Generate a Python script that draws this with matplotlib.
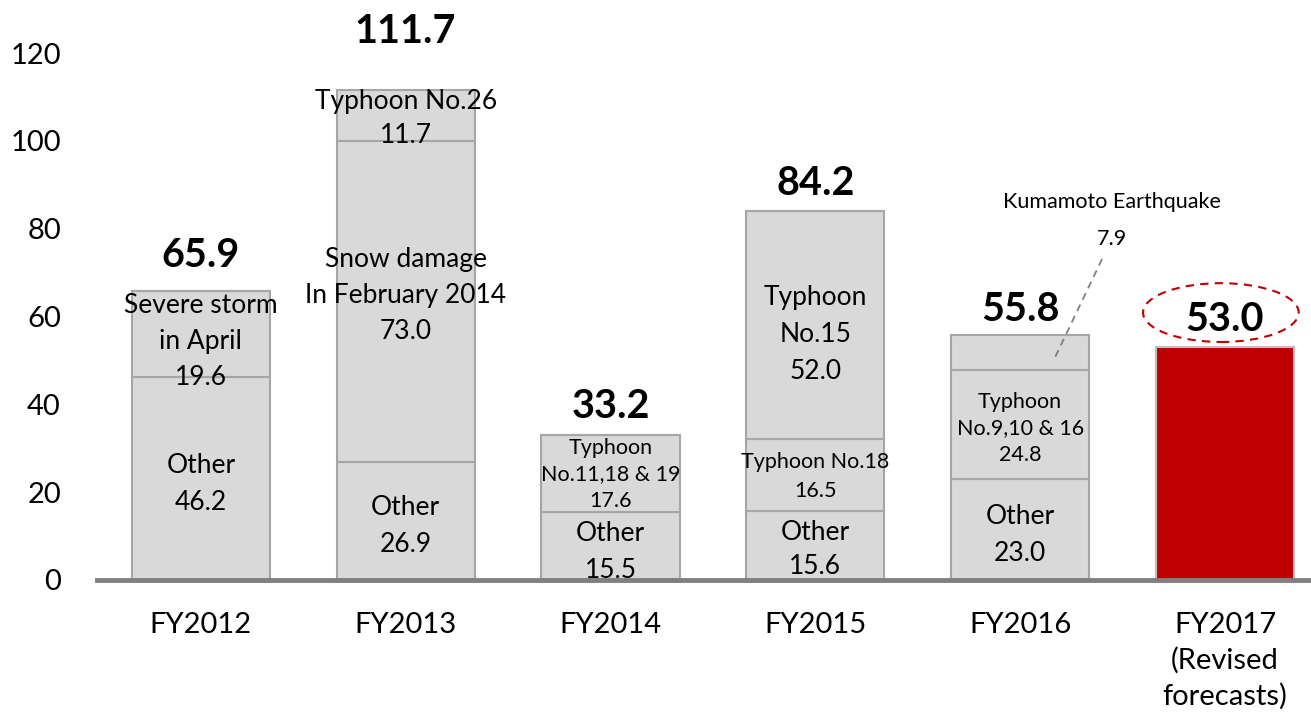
import matplotlib
matplotlib.use("Agg")
import matplotlib.pyplot as plt
from matplotlib.patches import Ellipse

plt.rcParams["font.family"] = ["Lato", "DejaVu Sans"]

years = ["FY2012", "FY2013", "FY2014", "FY2015", "FY2016", "FY2017\n(Revised\nforecasts)"]
other = [46.2, 26.9, 15.5, 15.6, 23.0]
event1 = [19.6, 73.0, 17.6, 16.5, 24.8]
event2 = [0.0, 11.7, 0.0, 52.0, 7.9]
event1_names = ["Severe storm\nin April", "Snow damage\nIn February 2014",
                "Typhoon\nNo.11,18 & 19", "Typhoon No.18", "Typhoon\nNo.9,10 & 16"]
event2_names = ["", "Typhoon No.26", "", "Typhoon\nNo.15", "Kumamoto Earthquake"]
forecast = 53.0
totals = [65.9, 111.7, 33.2, 84.2, 55.8, 53.0]

GREY = "#d9d9d9"
EDGE = "#a6a6a6"
RED = "#c00000"

fig = plt.figure(figsize=(13.11, 7.14), dpi=100)
ax = fig.add_axes([0.074, 0.1877, 0.926, 0.738])

x = list(range(len(years)))
w = 0.675
mid = [o + e for o, e in zip(other, event1)]
ax.bar(x[:5], other, w, color=GREY, edgecolor=EDGE, linewidth=1.5, zorder=2)
ax.bar(x[:5], event1, w, bottom=other, color=GREY, edgecolor=EDGE, linewidth=1.5, zorder=2)
ax.bar(x[:5], event2, w, bottom=mid, color=GREY, edgecolor=EDGE, linewidth=1.5, zorder=2)
ax.bar(x[5], forecast, w, color=RED, edgecolor="#bfbfbf", linewidth=1.5, zorder=2)

# segment labels: (bar, text, y, fontsize, linespacing)
seg = [
    (0, f"Other\n{other[0]:.1f}", 21.9, 19, 1.6),
    (0, f"{event1_names[0]}\n{event1[0]:.1f}", 54.2, 19, 1.55),
    (1, f"Other\n{other[1]:.1f}", 12.3, 19, 1.6),
    (1, f"{event1_names[1]}\n{event1[1]:.1f}", 64.7, 19, 1.55),
    (1, f"{event2_names[1]}\n{event2[1]:.1f}", 105.2, 19, 1.45),
    (2, f"Other\n{other[2]:.1f}", 6.4, 19, 1.6),
    (2, f"{event1_names[2]}\n{event1[2]:.1f}", 24.1, 15.5, 1.4),
    (3, f"Other\n{other[3]:.1f}", 6.9, 19, 1.45),
    (3, f"{event1_names[3]}\n{event1[3]:.1f}", 23.6, 15.5, 1.6),
    (3, f"{event2_names[3]}\n{event2[3]:.1f}", 56.0, 19, 1.6),
    (4, f"Other\n{other[4]:.1f}", 10.2, 19, 1.6),
    (4, f"{event1_names[4]}\n{event1[4]:.1f}", 34.5, 15.5, 1.4),
]
for i, txt, y, fs, ls in seg:
    ax.text(x[i], y, txt, ha="center", va="center", fontsize=fs,
            linespacing=ls, zorder=4, clip_on=False)

# Kumamoto callout
ax.text(x[4] + 0.45, 86.1, event2_names[4], ha="center", va="center", fontsize=15.5)
ax.text(x[4] + 0.45, 77.7, f"{event2[4]:.1f}", ha="center", va="center", fontsize=15.5)
ax.plot([x[4] + 0.40, x[4] + 0.16], [73.1, 49.7], ls=(0, (4, 3)), color="#808080",
        lw=1.3, zorder=5)

# totals
tot_y = [74.0, 125.0, 39.4, 90.3, 61.5, 59.4]
for i, (t, y) in enumerate(zip(totals, tot_y)):
    ax.text(x[i], y, f"{t:.1f}", ha="center", va="center", fontsize=28.5,
            fontweight="bold", clip_on=False, zorder=4)

ax.add_patch(Ellipse((x[5] - 0.02, 60.9), 0.76, 13.4, fill=False, edgecolor=RED,
                     ls=(0, (4, 3)), lw=1.5, zorder=5))

ax.set_xlim(-0.507, 5.42)
ax.set_ylim(0, 120)
ax.set_yticks(range(0, 121, 20))
ax.set_xticks(x)
ax.set_xticklabels(years, linespacing=1.42)
ax.tick_params(axis="y", length=0, pad=26, labelsize=21)
ax.tick_params(axis="x", length=0, pad=23, labelsize=21)
for s in ["top", "left", "right"]:
    ax.spines[s].set_visible(False)
ax.spines["bottom"].set_color("#808080")
ax.spines["bottom"].set_linewidth(3.5)
ax.spines["bottom"].set_zorder(3)

fig.savefig("out.png", dpi=100)
